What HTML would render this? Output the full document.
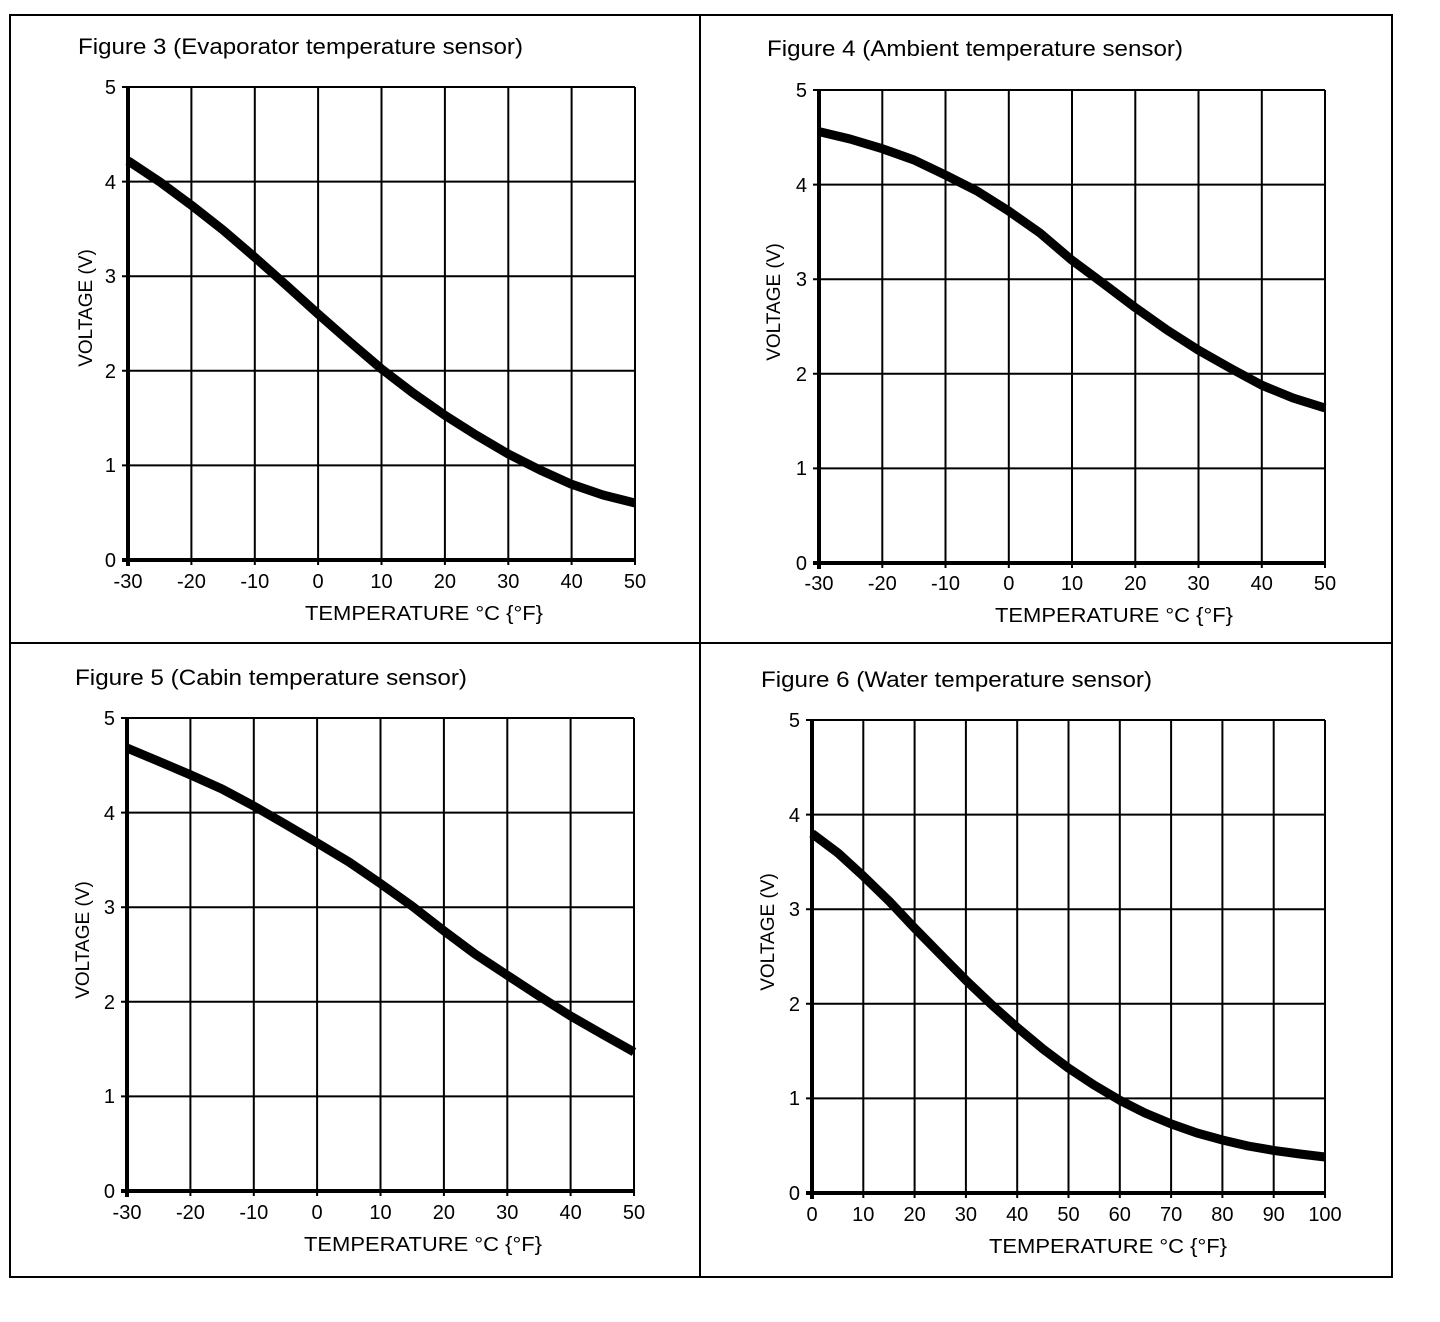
<!DOCTYPE html>
<html><head><meta charset="utf-8"><style>
html,body{margin:0;padding:0;background:#fff}
svg{display:block}
text{font-family:"Liberation Sans",Arial,sans-serif;fill:#000}
.t{font-size:22px}
.l{font-size:20px}
.v{font-size:19px}
.g{stroke:#000;stroke-width:2;fill:none}
.a{stroke:#000;stroke-width:4;fill:none}
.c{stroke:#000;stroke-width:9;fill:none;stroke-linejoin:round;stroke-linecap:butt}
</style></head><body>
<svg width="1440" height="1322" viewBox="0 0 1440 1322" xmlns="http://www.w3.org/2000/svg">
<rect x="0" y="0" width="1440" height="1322" fill="#fff"/>
<rect x="10" y="15" width="1382" height="1262" fill="none" stroke="#000" stroke-width="2"/>
<line x1="700" y1="15" x2="700" y2="1277" stroke="#000" stroke-width="2"/>
<line x1="10" y1="643" x2="1392" y2="643" stroke="#000" stroke-width="2"/>

<!-- ===== Figure 3 ===== -->
<text class="t" x="78" y="54" textLength="445" lengthAdjust="spacingAndGlyphs">Figure 3 (Evaporator temperature sensor)</text>
<path class="g" d="M191.4 87V565M254.8 87V565M318.1 87V565M381.5 87V565M444.9 87V565M508.3 87V565M571.6 87V565M635 87V565M122 87H635M122 181.6H635M122 276.2H635M122 370.8H635M122 465.4H635"/>
<path class="a" d="M128 87V566M122 560H635"/>
<g class="l" text-anchor="end"><text x="116" y="94">5</text><text x="116" y="189">4</text><text x="116" y="283">3</text><text x="116" y="378">2</text><text x="116" y="472">1</text><text x="116" y="567">0</text></g>
<g class="l" text-anchor="middle"><text x="128" y="588">-30</text><text x="191.4" y="588">-20</text><text x="254.8" y="588">-10</text><text x="318.1" y="588">0</text><text x="381.5" y="588">10</text><text x="444.9" y="588">20</text><text x="508.3" y="588">30</text><text x="571.6" y="588">40</text><text x="635" y="588">50</text></g>
<text class="l" x="305" y="620" textLength="238" lengthAdjust="spacingAndGlyphs">TEMPERATURE  °C {°F}</text>
<text class="v" transform="translate(92,308) rotate(-90)" text-anchor="middle">VOLTAGE (V)</text>
<polyline class="c" points="128,160.7 160,182 191.4,205.2 223,230 254.8,257.3 286,285 318.1,314 350,342 381.5,368.9 413,393 444.9,415.3 476,435 508.3,454 540,470 571.6,484.3 603,495 635,503"/>

<!-- ===== Figure 4 ===== -->
<text class="t" x="767" y="56" textLength="416" lengthAdjust="spacingAndGlyphs">Figure 4 (Ambient temperature sensor)</text>
<path class="g" d="M882.3 90V568M945.5 90V568M1008.8 90V568M1072 90V568M1135.3 90V568M1198.5 90V568M1261.8 90V568M1325 90V568M813 90H1325M813 184.6H1325M813 279.2H1325M813 373.8H1325M813 468.4H1325"/>
<path class="a" d="M819 90V569M813 563H1325"/>
<g class="l" text-anchor="end"><text x="807" y="97">5</text><text x="807" y="192">4</text><text x="807" y="286">3</text><text x="807" y="381">2</text><text x="807" y="475">1</text><text x="807" y="570">0</text></g>
<g class="l" text-anchor="middle"><text x="819" y="590">-30</text><text x="882.3" y="590">-20</text><text x="945.5" y="590">-10</text><text x="1008.8" y="590">0</text><text x="1072" y="590">10</text><text x="1135.3" y="590">20</text><text x="1198.5" y="590">30</text><text x="1261.8" y="590">40</text><text x="1325" y="590">50</text></g>
<text class="l" x="995" y="622" textLength="238" lengthAdjust="spacingAndGlyphs">TEMPERATURE  °C {°F}</text>
<text class="v" transform="translate(780,302) rotate(-90)" text-anchor="middle">VOLTAGE (V)</text>
<polyline class="c" points="819,131.6 850,139 882.3,148.7 914,160 945.5,175.1 977,191 1008.8,211.1 1040,233 1072,260.3 1104,284 1135.3,307.6 1167,330 1198.5,350.2 1230,368 1261.8,385.2 1293,398 1325,408"/>

<!-- ===== Figure 5 ===== -->
<text class="t" x="75" y="685" textLength="392" lengthAdjust="spacingAndGlyphs">Figure 5 (Cabin temperature sensor)</text>
<path class="g" d="M190.4 718V1196M253.8 718V1196M317.1 718V1196M380.5 718V1196M443.9 718V1196M507.3 718V1196M570.6 718V1196M634 718V1196M121 718H634M121 812.6H634M121 907.2H634M121 1001.8H634M121 1096.4H634"/>
<path class="a" d="M127 718V1197M121 1191H634"/>
<g class="l" text-anchor="end"><text x="115" y="725">5</text><text x="115" y="820">4</text><text x="115" y="914">3</text><text x="115" y="1009">2</text><text x="115" y="1103">1</text><text x="115" y="1198">0</text></g>
<g class="l" text-anchor="middle"><text x="127" y="1219">-30</text><text x="190.4" y="1219">-20</text><text x="253.8" y="1219">-10</text><text x="317.1" y="1219">0</text><text x="380.5" y="1219">10</text><text x="443.9" y="1219">20</text><text x="507.3" y="1219">30</text><text x="570.6" y="1219">40</text><text x="634" y="1219">50</text></g>
<text class="l" x="304" y="1251" textLength="238" lengthAdjust="spacingAndGlyphs">TEMPERATURE  °C {°F}</text>
<text class="v" transform="translate(89,940) rotate(-90)" text-anchor="middle">VOLTAGE (V)</text>
<polyline class="c" points="127,748 158,761 190.4,774.8 222,789 253.8,806 285,824 317.1,842.9 349,862 380.5,883.6 412,906 443.9,930.8 475,954 507.3,975.3 539,996 570.6,1016 602,1034 634,1052"/>

<!-- ===== Figure 6 ===== -->
<text class="t" x="761" y="687" textLength="391" lengthAdjust="spacingAndGlyphs">Figure 6 (Water temperature sensor)</text>
<path class="g" d="M863.3 720V1198M914.6 720V1198M965.9 720V1198M1017.2 720V1198M1068.5 720V1198M1119.8 720V1198M1171.1 720V1198M1222.4 720V1198M1273.7 720V1198M1325 720V1198M806 720H1325M806 814.6H1325M806 909.2H1325M806 1003.8H1325M806 1098.4H1325"/>
<path class="a" d="M812 720V1199M806 1193H1325"/>
<g class="l" text-anchor="end"><text x="800" y="727">5</text><text x="800" y="822">4</text><text x="800" y="916">3</text><text x="800" y="1011">2</text><text x="800" y="1105">1</text><text x="800" y="1200">0</text></g>
<g class="l" text-anchor="middle"><text x="812" y="1221">0</text><text x="863.3" y="1221">10</text><text x="914.6" y="1221">20</text><text x="965.9" y="1221">30</text><text x="1017.2" y="1221">40</text><text x="1068.5" y="1221">50</text><text x="1119.8" y="1221">60</text><text x="1171.1" y="1221">70</text><text x="1222.4" y="1221">80</text><text x="1273.7" y="1221">90</text><text x="1325" y="1221">100</text></g>
<text class="l" x="989" y="1253" textLength="238" lengthAdjust="spacingAndGlyphs">TEMPERATURE  °C {°F}</text>
<text class="v" transform="translate(774,932) rotate(-90)" text-anchor="middle">VOLTAGE (V)</text>
<polyline class="c" points="812,833.5 838,853 863.3,876.1 889,901 914.6,928.1 940,954 965.9,980.2 992,1005 1017.2,1027.5 1043,1049 1068.5,1068.1 1094,1085 1119.8,1100.3 1145,1113 1171.1,1123.9 1197,1133 1222.4,1140 1248,1146 1273.7,1150.4 1300,1154 1325,1157"/>
</svg>
</body></html>
